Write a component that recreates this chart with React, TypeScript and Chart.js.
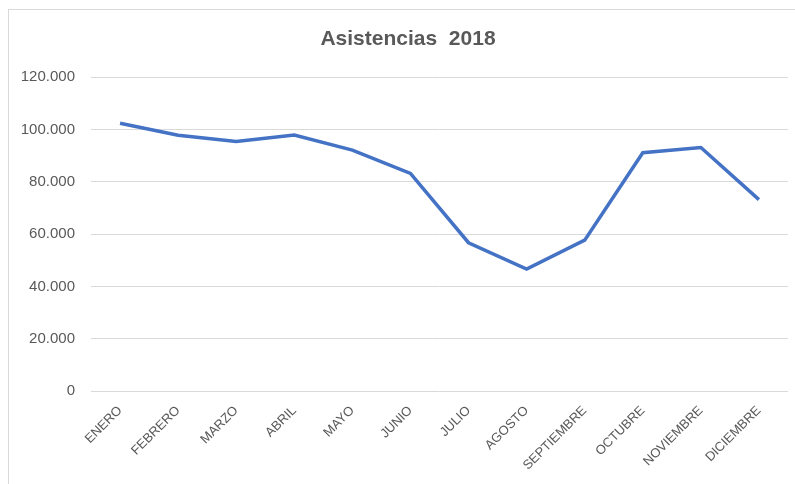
import React, { useEffect, useRef } from "react";
import { Chart, registerables } from "chart.js";

Chart.register(...registerables);

const months = [
  "ENERO", "FEBRERO", "MARZO", "ABRIL", "MAYO", "JUNIO",
  "JULIO", "AGOSTO", "SEPTIEMBRE", "OCTUBRE", "NOVIEMBRE", "DICIEMBRE",
];
const asistencias = [
  102400, 97800, 95400, 97900, 92100, 83200,
  56700, 46600, 57700, 91100, 93100, 73200,
];
const yMin = 0;
const yMax = 120000;
const yStep = 20000;
const chartTitle = "Asistencias  2018";

const fmt = (v: number) => {
  const s = Math.round(v).toString();
  return s.replace(/\B(?=(\d{3})+(?!\d))/g, ".");
};

const shiftTitle = {
  id: "shiftTitle",
  afterLayout(chart: any) {
    const t = chart.titleBlock;
    if (t) {
      t.left = 28;
      t.right = 788;
    }
  },
};

export default function App() {
  const ref = useRef<HTMLCanvasElement | null>(null);
  useEffect(() => {
    if (!ref.current) return;
    const chart = new Chart(ref.current, {
      type: "line",
      data: {
        labels: months,
        datasets: [
          {
            data: asistencias,
            borderColor: "#4472C4",
            backgroundColor: "#4472C4",
            borderWidth: 3.5,
            pointRadius: 0,
            tension: 0,
            fill: false,
          },
        ],
      },
      plugins: [shiftTitle],
      options: {
        animation: false,
        responsive: false,
        maintainAspectRatio: false,
        layout: { padding: { left: 0, right: 7, top: 0, bottom: 0 } },
        plugins: {
          legend: { display: false },
          tooltip: { enabled: false },
          title: {
            display: true,
            text: chartTitle,
            color: "#595959",
            font: { family: "'Liberation Sans', Arial, sans-serif", size: 21, weight: "bold" },
            padding: { top: 27, bottom: 25 },
          },
        },
        scales: {
          y: {
            min: yMin,
            max: yMax,
            border: { display: false },
            grid: { color: "#d9d9d9", lineWidth: 1, drawTicks: false },
            ticks: {
              stepSize: yStep,
              padding: 16,
              color: "#595959",
              font: { family: "'Liberation Sans', Arial, sans-serif", size: 15 },
              callback: (v: any) => fmt(Number(v)),
            },
            afterFit: (scale: any) => {
              scale.width = 91;
            },
          },
          x: {
            offset: true,
            border: { display: false },
            grid: { display: false, drawTicks: false },
            ticks: {
              autoSkip: false,
              minRotation: 45,
              maxRotation: 45,
              padding: 12,
              color: "#595959",
              font: { family: "'Liberation Sans', Arial, sans-serif", size: 13 },
            },
            afterFit: (scale: any) => {
              scale.height = 93;
            },
          },
        },
      },
    });
    return () => chart.destroy();
  }, []);

  return (
    <div style={{ position: "absolute", left: 0, top: 0, width: 795, height: 484, background: "#fff", overflow: "hidden" }}>
      <div
        style={{
          position: "absolute",
          left: 8,
          top: 9,
          right: 0,
          bottom: 0,
          borderLeft: "1px solid #d9d9d9",
          borderTop: "1px solid #d9d9d9",
        }}
      />
      <canvas ref={ref} width={795} height={484} style={{ position: "absolute", left: 0, top: 0, width: 795, height: 484 }} />
    </div>
  );
}
